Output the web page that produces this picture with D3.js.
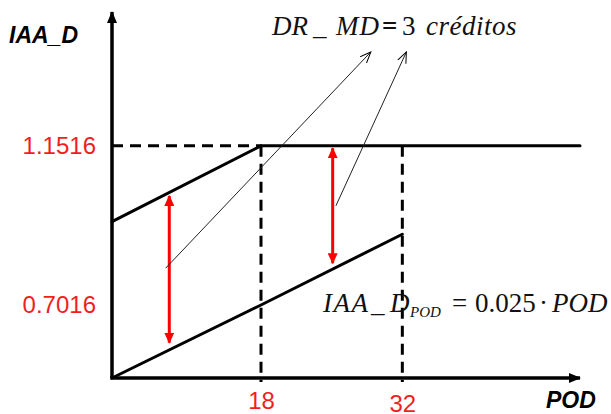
<!DOCTYPE html>
<html>
<head>
<meta charset="utf-8">
<script src="https://cdn.jsdelivr.net/npm/d3@7/dist/d3.min.js"></script>
<style>
  body { margin: 0; background: #fff; }
</style>
</head>
<body>
<div id="chart"></div>
<script>
// ---------------- data (schematic diagram values) ----------------
var podTicks = [18, 32];
var iaaTicks = [0.7016, 1.1516];
var podMax = 49.6, iaaMax = 1.53;

// lower line: IAA_D_POD = 0.025 * POD (drawn schematic)
var lowerLine = [[0, 0], [18, 0.7016], [32, 0.9017]];
// upper line: rises until it hits the cap at POD 18, then flat
var upperLine = [[0, 0.9374], [18, 1.1516]];
var capLine = [[18, 1.1516], [podMax, 1.1516]];
var capDashed = [[0, 1.1516], [18, 1.1516]];
var guidePods = [18, 32];

// red double arrows: gap between the lines
var gapArrows = [
  { pod: 6.92, from: 0.339, to: 1.010 },
  { pod: 25.1, from: 0.8197, to: 1.145 }
];
// thin pointer arrows towards the "DR_MD" label
var pointers = [
  { from: [6.48, 0.8056], to: [28.88, 1.417] },
  { from: [25.42, 0.982], to: [32.4, 1.417] }
];

// ---------------- setup ----------------
var W = 611, H = 414;
var svg = d3.select("#chart").append("svg")
    .attr("width", W).attr("height", H);

// schematic, piecewise scales
var x = d3.scaleLinear().domain([0, 18, podMax]).range([112, 261, 580]);
var y = d3.scaleLinear().domain([0, 0.7016, iaaMax]).range([378, 305, 12]);

var defs = svg.append("defs");
defs.append("marker").attr("id", "axisHead")
    .attr("markerUnits", "userSpaceOnUse")
    .attr("viewBox", "0 0 12 10").attr("refX", 11).attr("refY", 5)
    .attr("markerWidth", 12).attr("markerHeight", 10)
    .attr("orient", "auto")
  .append("path").attr("d", "M0,0L12,5L0,10Z").attr("fill", "#000");
defs.append("marker").attr("id", "redHead")
    .attr("markerUnits", "userSpaceOnUse")
    .attr("viewBox", "0 0 11 10").attr("refX", 10).attr("refY", 5)
    .attr("markerWidth", 11).attr("markerHeight", 10)
    .attr("orient", "auto-start-reverse")
  .append("path").attr("d", "M0,0L11,5L0,10Z").attr("fill", "#ff0000");
defs.append("marker").attr("id", "thinHead")
    .attr("markerUnits", "userSpaceOnUse")
    .attr("viewBox", "0 0 12 10").attr("refX", 11).attr("refY", 5)
    .attr("markerWidth", 12).attr("markerHeight", 10)
    .attr("orient", "auto")
  .append("path").attr("d", "M0,0.5L11,5L0,9.5").attr("fill", "none")
    .attr("stroke", "#000").attr("stroke-width", 1);

var line = d3.line().x(function (d) { return x(d[0]); }).y(function (d) { return y(d[1]); });

// dashed guides
svg.append("path").attr("d", line(capDashed))
    .attr("stroke", "#000").attr("stroke-width", 3)
    .attr("stroke-dasharray", "11,7").attr("fill", "none");
svg.selectAll(".guide").data(guidePods).enter().append("line")
    .attr("class", "guide")
    .attr("x1", function (d) { return x(d); }).attr("x2", function (d) { return x(d); })
    .attr("y1", y(1.1516)).attr("y2", y(0) + 4)
    .attr("stroke", "#000").attr("stroke-width", 3)
    .attr("stroke-dasharray", "11,7");

// thick lines
[lowerLine, upperLine, capLine].forEach(function (pts) {
  svg.append("path").attr("d", line(pts))
      .attr("stroke", "#000").attr("stroke-width", 3)
      .attr("fill", "none").attr("stroke-linecap", "round");
});

// axes
svg.append("line")
    .attr("x1", x(0)).attr("y1", y(0)).attr("x2", x(0)).attr("y2", y(iaaMax))
    .attr("stroke", "#000").attr("stroke-width", 3.5).attr("marker-end", "url(#axisHead)");
svg.append("line")
    .attr("x1", x(0) - 1.7).attr("y1", y(0)).attr("x2", x(podMax)).attr("y2", y(0))
    .attr("stroke", "#000").attr("stroke-width", 3.5).attr("marker-end", "url(#axisHead)");

// tick labels
var yAxis = svg.append("g").attr("transform", "translate(" + x(0) + ",0)")
    .call(d3.axisLeft(y).tickValues(iaaTicks).tickSize(0).tickPadding(16)
      .tickFormat(d3.format(".4f")));
var xAxis = svg.append("g").attr("transform", "translate(0," + y(0) + ")")
    .call(d3.axisBottom(x).tickValues(podTicks).tickSize(0).tickPadding(14)
      .tickFormat(d3.format("d")));
[yAxis, xAxis].forEach(function (g) {
  g.select(".domain").remove();
  g.selectAll("text")
      .attr("fill", "#f01e1e")
      .style("font-family", "Liberation Sans, Arial, sans-serif")
      .style("font-size", "24px");
});
xAxis.selectAll("text").filter(function (d) { return d === 32; })
    .attr("transform", "translate(0,3)");

// red double arrows
svg.selectAll(".gap").data(gapArrows).enter().append("line")
    .attr("class", "gap")
    .attr("x1", function (d) { return x(d.pod); }).attr("x2", function (d) { return x(d.pod); })
    .attr("y1", function (d) { return y(d.from); }).attr("y2", function (d) { return y(d.to); })
    .attr("stroke", "#ff0000").attr("stroke-width", 3)
    .attr("marker-start", "url(#redHead)").attr("marker-end", "url(#redHead)");

// thin pointers
svg.selectAll(".ptr").data(pointers).enter().append("line")
    .attr("class", "ptr")
    .attr("x1", function (d) { return x(d.from[0]); }).attr("y1", function (d) { return y(d.from[1]); })
    .attr("x2", function (d) { return x(d.to[0]); }).attr("y2", function (d) { return y(d.to[1]); })
    .attr("stroke", "#222").attr("stroke-width", 1)
    .attr("marker-end", "url(#thinHead)");

// axis titles
var sansBold = "Liberation Sans, Arial, sans-serif";
svg.append("text").attr("x", 9).attr("y", 43).text("IAA_D")
    .style("font-family", sansBold).style("font-size", "23px")
    .style("font-weight", "bold").style("font-style", "italic");
svg.append("text").attr("x", 546).attr("y", 408).text("POD")
    .style("font-family", sansBold).style("font-size", "23px")
    .style("font-weight", "bold").style("font-style", "italic");

// formulas
var serif = "Liberation Serif, Times New Roman, serif";
var t1 = svg.append("text").attr("y", 35)
    .style("font-family", serif).style("font-size", "27px").attr("fill", "#111");
[
  { s: "DR", x: 272, it: true },
  { s: "_", x: 313, it: true },
  { s: "MD", x: 336, it: true, ls: 1 },
  { s: "=", x: 382, it: false, b: true },
  { s: "3", x: 402, it: false },
  { s: "créditos", x: 426, it: true, ls: 0.5 }
].forEach(function (p) {
  t1.append("tspan").attr("x", p.x).text(p.s)
    .style("font-style", p.it ? "italic" : "normal")
    .style("font-weight", p.b ? "bold" : "normal")
    .style("letter-spacing", (p.ls || 0) + "px");
});

var t2 = svg.append("text").attr("y", 312)
    .style("font-family", serif).style("font-size", "27px").attr("fill", "#111");
[
  { s: "IAA", x: 323, it: true, ls: 1.5 },
  { s: "_", x: 371, it: true },
  { s: "D", x: 390, it: true },
  { s: "POD", x: 410, it: true, sub: true },
  { s: "=", x: 452, it: false },
  { s: "0.025", x: 475, it: false },
  { s: "·", x: 539, it: false },
  { s: "POD", x: 552, it: true }
].forEach(function (p) {
  t2.append("tspan").attr("x", p.x).attr("y", p.sub ? 317 : 312).text(p.s)
    .style("font-style", p.it ? "italic" : "normal")
    .style("font-size", p.sub ? "15px" : "27px")
    .style("letter-spacing", (p.ls || 0) + "px");
});
</script>
</body>
</html>
